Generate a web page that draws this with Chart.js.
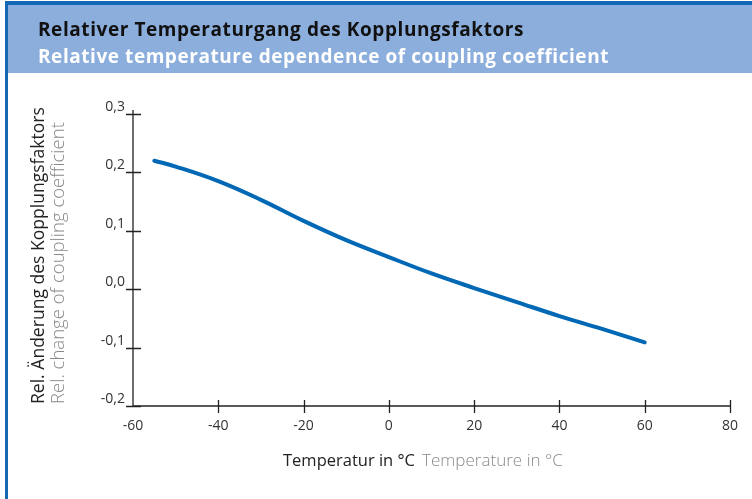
<!DOCTYPE html>
<html>
<head>
<meta charset="utf-8">
<script src="https://cdn.jsdelivr.net/npm/chart.js@4"></script>
<style>
  html, body { margin: 0; padding: 0; background: #fff; }
  canvas { display: block; }
</style>
</head>
<body>
<canvas id="chart" width="752" height="499"></canvas>
<script>
// Daten
const temps = [-55, -50, -40, -30, -20, -10, 0, 10, 20, 30, 40, 50, 60];
const coupling = [0.220, 0.210, 0.185, 0.153, 0.117, 0.084, 0.055, 0.027, 0.002, -0.022, -0.046, -0.068, -0.091];

const titleDe = 'Relativer Temperaturgang des Kopplungsfaktors';
const titleEn = 'Relative temperature dependence of coupling coefficient';
const xTitleDe = 'Temperatur in °C';
const xTitleEn = 'Temperature in °C';
const yTitleDe = 'Rel. Änderung des Kopplungsfaktors';
const yTitleEn = 'Rel. change of coupling coefficient';

// Schriftgröße so wählen, dass der Text die Zielbreite hat
function fitFont(ctx, text, weight, target) {
    ctx.letterSpacing = '0px';
    ctx.font = weight + ' 16px "Open Sans"';
    const size = 16 * target / ctx.measureText(text).width;
    ctx.font = weight + ' ' + size.toFixed(2) + 'px "Open Sans"';
}

// feste Größe, Breite über Buchstabenabstand
function fitSpacing(ctx, text, font, target) {
    ctx.letterSpacing = '0px';
    ctx.font = font;
    const w = ctx.measureText(text).width;
    ctx.letterSpacing = ((target - w) / text.length).toFixed(3) + 'px';
}

// Rahmen und Kopfzeile
const framePlugin = {
    id: 'framePlugin',
    beforeDraw(chart) {
        const ctx = chart.ctx;
        ctx.save();
        ctx.fillStyle = '#fff';
        ctx.fillRect(0, 0, 752, 499);
        ctx.fillStyle = '#8caedc';
        ctx.fillRect(8, 5, 744, 68);
        ctx.fillStyle = '#1467b3';
        ctx.fillRect(5, 1, 747, 4);
        ctx.fillRect(5, 1, 3, 498);
        ctx.restore();
    }
};

// Achsen, Kreuz-Ticks und Titel
const axesPlugin = {
    id: 'axesPlugin',
    afterDraw(chart) {
        const ctx = chart.ctx;
        const xs = chart.scales.x;
        const ys = chart.scales.y;
        const a = chart.chartArea;
        ctx.save();
        ctx.strokeStyle = '#222';
        ctx.lineWidth = 1.3;
        ctx.beginPath();
        ctx.moveTo(a.left, a.top - 4);
        ctx.lineTo(a.left, a.bottom);
        ctx.lineTo(a.right, a.bottom);
        ctx.stroke();
        ctx.beginPath();
        ys.ticks.forEach((t, i) => {
            const y = Math.round(ys.getPixelForTick(i)) + 0.5;
            ctx.moveTo(a.left - 7, y);
            ctx.lineTo(a.left + 8, y);
        });
        xs.ticks.forEach((t, i) => {
            if (i === 0) return;
            const x = Math.round(xs.getPixelForTick(i)) + 0.5;
            ctx.moveTo(x, a.bottom - 6);
            ctx.lineTo(x, a.bottom + 7);
        });
        ctx.stroke();

        ctx.textBaseline = 'alphabetic';
        ctx.textAlign = 'left';

        // Kopfzeile
        fitSpacing(ctx, titleDe, '700 19px "Open Sans"', 486);
        ctx.fillStyle = '#111';
        ctx.fillText(titleDe, 38, 36);
        fitSpacing(ctx, titleEn, '700 19px "Open Sans"', 571);
        ctx.fillStyle = '#fff';
        ctx.fillText(titleEn, 38, 63);

        // x-Titel
        fitFont(ctx, xTitleDe, 400, 132);
        ctx.fillStyle = '#222';
        ctx.fillText(xTitleDe, 283, 466);
        fitFont(ctx, xTitleEn, 300, 141);
        ctx.fillStyle = '#8a8a8a';
        ctx.fillText(xTitleEn, 422, 466);

        // y-Titel
        ctx.translate(0, 404);
        ctx.rotate(-Math.PI / 2);
        fitFont(ctx, yTitleDe, 400, 297);
        ctx.fillStyle = '#222';
        ctx.fillText(yTitleDe, 0, 44);
        fitFont(ctx, yTitleEn, 300, 282);
        ctx.fillStyle = '#8a8a8a';
        ctx.fillText(yTitleEn, 0, 64);
        ctx.restore();
    }
};

const fmt = v => (Math.round(v * 10) / 10).toFixed(1).replace('.', ',').replace('-0,0', '0,0');

new Chart(document.getElementById('chart'), {
    type: 'line',
    data: {
        datasets: [{
            data: temps.map((t, i) => ({ x: t, y: coupling[i] })),
            borderColor: '#0068b4',
            borderWidth: 4,
            borderCapStyle: 'round',
            pointRadius: 0,
            fill: false,
            tension: 0.4
        }]
    },
    options: {
        responsive: false,
        animation: false,
        layout: { padding: { left: 0, top: 114, right: 22, bottom: 0 } },
        plugins: {
            legend: { display: false },
            tooltip: { enabled: false }
        },
        scales: {
            x: {
                type: 'linear',
                min: -60,
                max: 80,
                grid: { display: false, drawTicks: false },
                border: { display: false },
                afterFit: s => { s.height = 93; },
                ticks: {
                    stepSize: 20,
                    padding: 12,
                    color: '#333',
                    font: { family: 'Open Sans', size: 14 },
                    maxRotation: 0
                }
            },
            y: {
                min: -0.2,
                max: 0.3,
                grid: { display: false, drawTicks: false },
                border: { display: false },
                afterFit: s => { s.width = 133; },
                ticks: {
                    stepSize: 0.1,
                    padding: 8,
                    labelOffset: -7,
                    color: '#333',
                    font: { family: 'Open Sans', size: 14 },
                    callback: v => fmt(v)
                }
            }
        }
    },
    plugins: [framePlugin, axesPlugin]
});
</script>
</body>
</html>
